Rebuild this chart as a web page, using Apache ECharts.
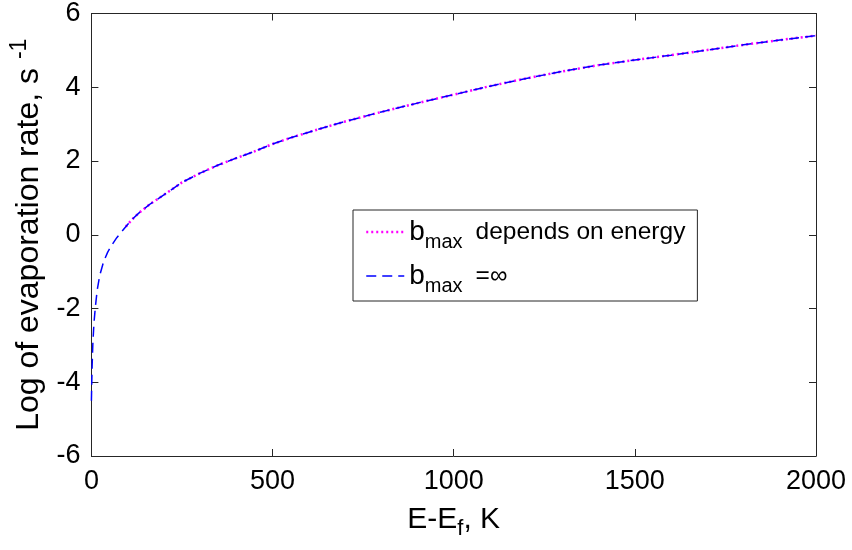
<!DOCTYPE html>
<html>
<head>
<meta charset="utf-8">
<script src="https://cdn.jsdelivr.net/npm/echarts@6/dist/echarts.min.js"></script>
<style>html,body{margin:0;padding:0;background:#fff;}#c{width:852px;height:550px;}</style>
</head>
<body>
<div id="c"></div>
<script>
// Energy E-Ef (K) and log evaporation rate
var energyInf = [0, 1, 2, 4, 7, 11, 16, 23, 34, 45, 57, 70, 85, 100, 115, 130, 163, 200, 250, 300, 350, 400, 450, 500, 550, 600, 650, 700, 800, 900, 1000, 1100, 1200, 1300, 1400, 1500, 1600, 1700, 1800, 1900, 2000];
var rateInf   = [-4.5, -4.0, -3.55, -2.95, -2.4, -1.95, -1.5, -1.1, -0.72, -0.47, -0.27, -0.08, 0.1, 0.28, 0.44, 0.58, 0.84, 1.08, 1.42, 1.67, 1.89, 2.08, 2.26, 2.46, 2.63, 2.78, 2.93, 3.07, 3.33, 3.57, 3.8, 4.03, 4.24, 4.43, 4.6, 4.74, 4.87, 5.01, 5.15, 5.28, 5.4];
var energyDep = [95, 100, 115, 130, 163, 200, 250, 300, 350, 400, 450, 500, 550, 600, 650, 700, 800, 900, 1000, 1100, 1200, 1300, 1400, 1500, 1600, 1700, 1800, 1900, 2000];
var rateDep   = [0.22, 0.28, 0.44, 0.58, 0.84, 1.08, 1.42, 1.67, 1.89, 2.08, 2.26, 2.46, 2.63, 2.78, 2.93, 3.07, 3.33, 3.57, 3.8, 4.03, 4.24, 4.43, 4.6, 4.74, 4.87, 5.01, 5.15, 5.28, 5.4];
var xTicks = [0, 500, 1000, 1500, 2000];
var yTicks = [-6, -4, -2, 0, 2, 4, 6];
var seriesNames = ['b_max depends on energy', 'b_max =inf'];

function zip(a, b) { return a.map(function (v, i) { return [v, b[i]]; }); }

var FONT = 'Liberation Sans';
var AX = '#262626';
var chart = echarts.init(document.getElementById('c'));
function axisCommon() {
  return {
    axisLine: { show: true, onZero: false, lineStyle: { color: AX, width: 1 } },
    axisTick: { show: true, inside: true, length: 7, lineStyle: { color: AX } },
    splitLine: { show: false }
  };
}
chart.setOption({
  animation: false,
  backgroundColor: '#fff',
  grid: { left: 91, right: 36, top: 10, bottom: 94 },
  xAxis: [
    Object.assign({
      type: 'value', min: xTicks[0], max: xTicks[xTicks.length - 1], interval: xTicks[1] - xTicks[0],
      name: '{n|E-E}{s|f}{n|, K}', nameLocation: 'middle', nameGap: 44,
      nameTextStyle: { rich: { n: { fontFamily: FONT, fontSize: 30, color: '#000' }, s: { fontFamily: FONT, fontSize: 22, color: '#000', padding: [18, 0, 0, 0] } } },
      axisLabel: { fontFamily: FONT, fontSize: 27, color: '#000', margin: 12, formatter: function (v) { return String(v); } }
    }, axisCommon()),
    Object.assign({ type: 'value', position: 'top', min: xTicks[0], max: xTicks[xTicks.length - 1], interval: xTicks[1] - xTicks[0], axisLabel: { show: false } }, axisCommon())
  ],
  yAxis: [
    Object.assign({
      type: 'value', min: yTicks[0], max: yTicks[yTicks.length - 1], interval: yTicks[1] - yTicks[0],
      name: '{n|Log of evaporation rate, s }{s|-1}', nameLocation: 'middle', nameGap: 40,
      nameTextStyle: { rich: { n: { fontFamily: FONT, fontSize: 32, color: '#000' }, s: { fontFamily: FONT, fontSize: 23, color: '#000', padding: [0, 0, 20, 0] } } },
      axisLabel: { fontFamily: FONT, fontSize: 27, color: '#000', margin: 11 }
    }, axisCommon()),
    Object.assign({ type: 'value', position: 'right', min: yTicks[0], max: yTicks[yTicks.length - 1], interval: yTicks[1] - yTicks[0], axisLabel: { show: false } }, axisCommon())
  ],
  legend: {
    orient: 'vertical', left: 353, top: 210,
    data: [
      { name: seriesNames[0], lineStyle: { width: 2.5 } },
      { name: seriesNames[1], lineStyle: { width: 1.5 } }
    ],
    backgroundColor: '#fff', borderColor: AX, borderWidth: 1,
    padding: [8, 12, 5, 12], itemGap: 10, itemWidth: 38, itemHeight: 14,
    itemStyle: { opacity: 0 },
    textStyle: {
      fontFamily: FONT, fontSize: 24, color: '#000',
      rich: {
        b: { fontFamily: FONT, fontSize: 28, color: '#000' },
        sub: { fontFamily: FONT, fontSize: 20, color: '#000', padding: [20, 0, 0, 0] },
        t: { fontFamily: FONT, fontSize: 24.5, color: '#000', padding: [0, 0, 0, 13] }
      }
    },
    formatter: function (name) {
      if (name === seriesNames[0]) return '{b|b}{sub|max}{t|depends on energy}';
      return '{b|b}{sub|max}{t|=\u221E}';
    }
  },
  series: [
    {
      name: seriesNames[0], type: 'line', data: zip(energyDep, rateDep), showSymbol: false, symbol: 'none',
      lineStyle: { color: '#ff00ff', width: 2.5, type: [2, 3] }, itemStyle: { color: '#ff00ff' }
    },
    {
      name: seriesNames[1], type: 'line', data: zip(energyInf, rateInf), showSymbol: false, symbol: 'none',
      lineStyle: { color: '#0000ff', width: 1.5, type: [10, 6] }, itemStyle: { color: '#0000ff' }
    }
  ]
});
</script>
</body>
</html>
